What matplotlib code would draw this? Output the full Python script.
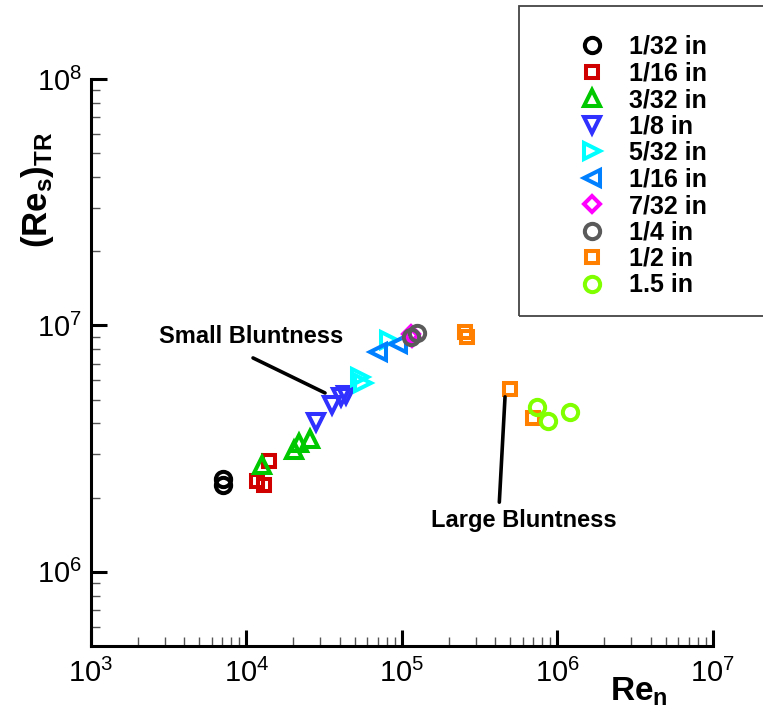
import matplotlib
matplotlib.use("Agg")
import matplotlib.pyplot as plt
from matplotlib.patches import Rectangle
from matplotlib.ticker import LogLocator, NullFormatter

plt.rcParams["font.family"] = ["Liberation Sans", "DejaVu Sans"]
plt.rcParams["mathtext.fontset"] = "custom"
plt.rcParams["mathtext.rm"] = "Liberation Sans"
plt.rcParams["mathtext.bf"] = "Liberation Sans:bold"
plt.rcParams["mathtext.it"] = "Liberation Sans:italic"

# =======================
# DATA
# =======================

labels = ["1/32 in", "1/16 in", "3/32 in", "1/8 in", "5/32 in",
          "1/16 in", "7/32 in", "1/4 in", "1/2 in", "1.5 in"]

ren_1_32 = [7050, 7050]
res_1_32 = [2.38e6, 2.25e6]

ren_1_16 = [14080, 11790, 13070]
res_1_16 = [2.83e6, 2.34e6, 2.25e6]

ren_3_32 = [12580, 20300, 21950, 25720]
res_3_32 = [2.72e6, 3.12e6, 3.33e6, 3.45e6]

ren_1_8 = [27900, 35470, 40700, 43830]
res_1_8 = [4.06e6, 4.76e6, 5.13e6, 5.22e6]

ren_5_32 = [53930, 56600, 82850]
res_5_32 = [6.18e6, 5.83e6, 8.73e6]

ren_1_16b = [70700, 95100]
res_1_16b = [7.81e6, 8.41e6]

ren_7_32 = [113900, 116500]
res_7_32 = [9.24e6, 8.89e6]

ren_1_4 = [113900, 125400]
res_1_4 = [8.98e6, 9.28e6]

ren_1_2 = [255300, 261800, 497000, 701500]
res_1_2 = [9.44e6, 8.96e6, 5.51e6, 4.20e6]

ren_1_5 = [738000, 876700, 1208000]
res_1_5 = [4.68e6, 4.11e6, 4.47e6]

series_x = [ren_1_32, ren_1_16, ren_3_32, ren_1_8, ren_5_32,
            ren_1_16b, ren_7_32, ren_1_4, ren_1_2, ren_1_5]
series_y = [res_1_32, res_1_16, res_3_32, res_1_8, res_5_32,
            res_1_16b, res_7_32, res_1_4, res_1_2, res_1_5]

# annotation leader lines (Re_n, Re_s pairs)
small_line_x = [11060, 32120]
small_line_y = [7.38e6, 5.32e6]
large_line_x = [461700, 424300]
large_line_y = [5.13e6, 1.917e6]

# =======================
# STYLE
# =======================

styles = [
    {"color": "black",   "marker": "o", "ms": 11},
    {"color": "#d00000", "marker": "s", "ms": 9},
    {"color": "#00c800", "marker": "^", "ms": 11},
    {"color": "#3030ff", "marker": "v", "ms": 11},
    {"color": "#00ffff", "marker": ">", "ms": 11},
    {"color": "#0080ff", "marker": "<", "ms": 11},
    {"color": "#ff00ff", "marker": "D", "ms": 8.5},
    {"color": "#5a5a5a", "marker": "o", "ms": 11},
    {"color": "#ff8000", "marker": "s", "ms": 9},
    {"color": "#80ff00", "marker": "o", "ms": 11},
]

fig = plt.figure(figsize=(7.63, 7.17), dpi=100)
ax = fig.add_axes([0.1189, 0.0990, 0.8152, 0.7908])

handles = []
for xs, ys, lab, st in zip(series_x, series_y, labels, styles):
    h, = ax.plot(xs, ys, linestyle="none", marker=st["marker"],
                 markersize=st["ms"], markerfacecolor="none",
                 markeredgecolor=st["color"], markeredgewidth=2.9,
                 label=lab, clip_on=False)
    handles.append(h)

ax.set_xscale("log")
ax.set_yscale("log")
ax.set_xlim(1e3, 1e7)
ax.set_ylim(5e5, 1e8)

for side in ["top", "right"]:
    ax.spines[side].set_visible(False)
for side in ["left", "bottom"]:
    ax.spines[side].set_linewidth(2.2)

ax.xaxis.set_minor_locator(LogLocator(base=10, subs=range(2, 10), numticks=20))
ax.yaxis.set_minor_locator(LogLocator(base=10, subs=range(2, 10), numticks=20))
ax.xaxis.set_minor_formatter(NullFormatter())
ax.yaxis.set_minor_formatter(NullFormatter())

ax.tick_params(which="major", direction="in", length=11.5, width=2.2,
               labelsize=21, pad=6)
ax.tick_params(which="minor", direction="in", length=6.5, width=1.0,
               color="#555555")
ax.tick_params(axis="x", which="major", pad=9)

ax.set_xlabel(r"$\mathbf{Re}_{\mathbf{n}}$", fontsize=24)
ax.xaxis.set_label_coords(0.882, -0.052)
ax.set_ylabel(r"$\mathbf{(Re}_{\mathbf{s}}\mathbf{)}_{\mathbf{TR}}$", fontsize=25)
ax.yaxis.set_label_coords(-0.056, 0.805)

# annotations
ax.plot(small_line_x, small_line_y, color="black", lw=2.6, solid_capstyle="round")
ax.plot(large_line_x, large_line_y, color="black", lw=2.6, solid_capstyle="round")
ax.text(10740, 8.98e6, "Small Bluntness", fontsize=17, fontweight="bold",
        ha="center", va="center")
ax.text(611700, 1.61e6, "Large Bluntness", fontsize=17, fontweight="bold",
        ha="center", va="center")

# legend box
fig.patches.append(Rectangle((519 / 763, 1 - 316 / 717), 0.40, 310 / 717,
                             transform=fig.transFigure, fill=False,
                             edgecolor="#444444", linewidth=1.3))
fig.legend(handles=handles, loc="upper left",
           bbox_to_anchor=(579 / 763, 1 - 35 / 717),
           frameon=False, borderpad=0, borderaxespad=0,
           handlelength=1.0, handletextpad=1.0, labelspacing=0.1,
           prop={"weight": "bold", "size": 18})

fig.savefig("out.png", dpi=100)
